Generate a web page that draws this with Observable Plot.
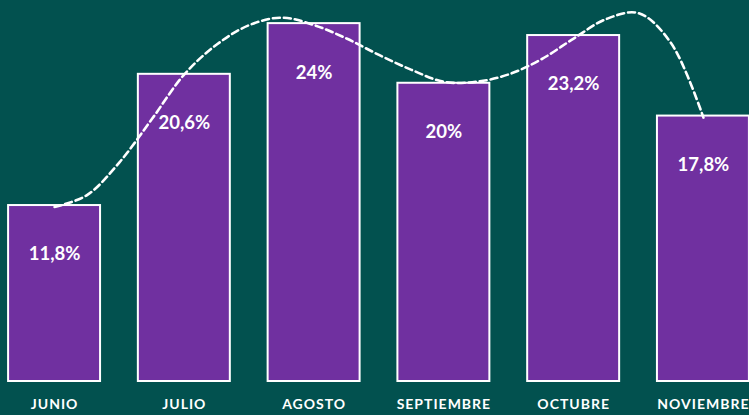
<!DOCTYPE html>
<html>
<head>
<meta charset="utf-8">
<script src="https://cdn.jsdelivr.net/npm/d3@7"></script>
<script src="https://cdn.jsdelivr.net/npm/@observablehq/plot@0.6"></script>
<style>
  html, body { margin: 0; padding: 0; background: #02514f; }
  #chart svg g[aria-label="x-axis tick label"] text { letter-spacing: 1px; }
</style>
</head>
<body>
<div id="chart"></div>
<script>
// Categories and bar values (percent)
const months = ["JUNIO", "JULIO", "AGOSTO", "SEPTIEMBRE", "OCTUBRE", "NOVIEMBRE"];
const values = [11.8, 20.6, 24, 20, 23.2, 17.8];

// Dashed trend curve, one reading every quarter category
const trendValues = [11.7, 12.5, 14.7, 17.6, 20.6, 22.6, 23.9, 24.4, 23.9, 23.0, 21.9,
                     20.9, 20.1, 20.1, 20.6, 21.6, 23.0, 24.3, 24.7, 22.7, 17.7];

const bars = months.map((m, i) => ({i, month: m, value: values[i]}));
const trend = trendValues.map((v, k) => ({t: k / 4, v}));
const fmt = v => String(v).replace(".", ",") + "%";

const chart = Plot.plot({
  width: 749,
  height: 415,
  marginLeft: 8,
  marginRight: 0,
  marginTop: 0,
  marginBottom: 34,
  style: {background: "#02514f", color: "white", fontFamily: "Lato, 'Open Sans', sans-serif"},
  x: {domain: [-0.355, 5.355], axis: null},
  y: {domain: [0, 25.55], axis: null},
  marks: [
    Plot.rectY(bars, {
      x1: d => d.i - 0.5, x2: d => d.i + 0.5, y: "value",
      insetLeft: 18.9, insetRight: 18.9,
      fill: "#7030a0", stroke: "white", strokeWidth: 2
    }),
    Plot.line(trend, {
      x: "t", y: "v", curve: "catmull-rom",
      stroke: "white", strokeWidth: 2.6, strokeDasharray: "7,4"
    }),
    Plot.text(bars, {
      x: "i", y: "value", text: d => fmt(d.value), dy: 49,
      fill: "white", fontSize: 18.5, fontWeight: "bold", lineAnchor: "middle"
    }),
    Plot.axisX({
      ticks: months.map((m, i) => i), tickFormat: i => months[i],
      tickSize: 0, tickPadding: 18, fontSize: 14, fontWeight: "bold", fill: "white"
    })
  ]
});
document.getElementById("chart").appendChild(chart);
</script>
</body>
</html>
